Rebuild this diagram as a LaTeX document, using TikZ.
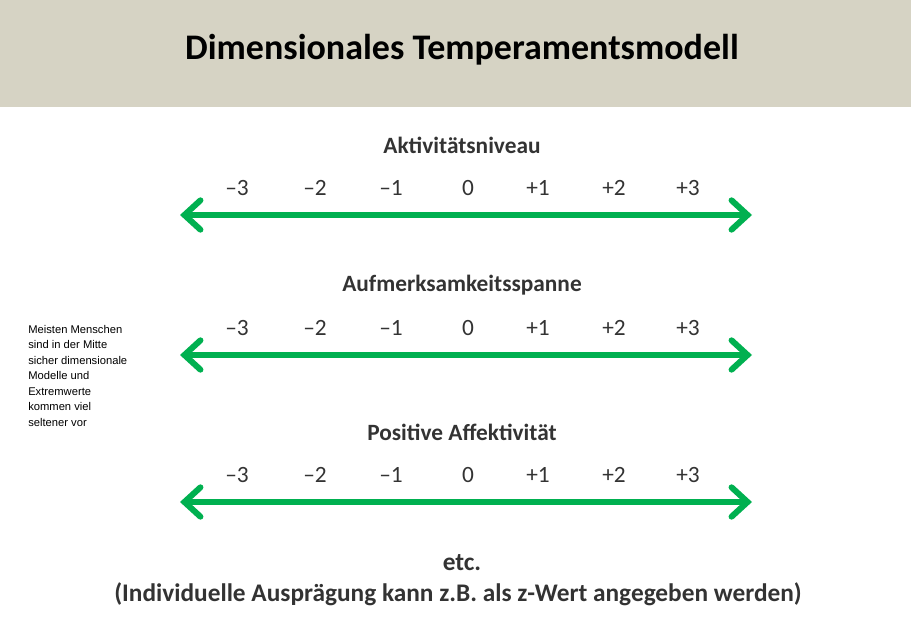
\documentclass[tikz,border=0pt]{standalone}
\usepackage{fontspec}
\setmainfont{Carlito}
\newfontfamily\notefont{Liberation Sans}
\usetikzlibrary{arrows.meta}
\definecolor{banner}{HTML}{D6D3C4}
\definecolor{scalegreen}{HTML}{00B050}
\definecolor{labelgray}{HTML}{333333}
\tikzset{
  axislabel/.style={font=\bfseries\fontsize{17.5}{21}\selectfont, text=labelgray},
  tick/.style={font=\fontsize{17.5}{21}\selectfont, text=labelgray},
  scaleline/.style={draw=scalegreen, line width=4.5pt,
    {Straight Barb[length=12pt,width=22pt,line cap=round]}-{Straight Barb[length=12pt,width=22pt,line cap=round]}}
}
\begin{document}
\begin{tikzpicture}[x=0.75pt,y=-0.75pt]
    \useasboundingbox (0,0) rectangle (911,643);
    \fill[banner] (0,0) rectangle (911,107);
    \node[font=\bfseries\fontsize{27}{32}\selectfont] (title) at (462,50) {Dimensionales Temperamentsmodell};
    \foreach \name/\lab/\yl in {akt/Aktivitätsniveau/145, auf/Aufmerksamkeitsspanne/285, pos/Positive Affektivität/432} {
        \node[axislabel] (\name) at (462,\yl) {\lab};
        \coordinate (\name l) at (180,\yl+70);
        \coordinate (\name r) at (752,\yl+70);
        \draw[scaleline] (\name l) -- (\name r);
        \foreach \v/\x in {–3/237, –2/315, –1/391, 0/468, +1/538, +2/614, +3/688} {
            \node[tick] at (\x,\yl+43) {\v};
        }
    }
    \node[anchor=north west, align=left, font=\notefont\fontsize{8.4}{11.6}\selectfont, inner sep=0pt] (note) at (28,325)
        {Meisten Menschen\\sind in der Mitte\\sicher dimensionale\\Modelle und\\Extremwerte\\kommen viel\\seltener vor};
    \node[font=\bfseries\fontsize{19}{23}\selectfont, text=labelgray] (etc) at (462,563) {etc.};
    \node[font=\bfseries\fontsize{19}{23}\selectfont, text=labelgray] (hint) at (458,594) {(Individuelle Ausprägung kann z.B. als z-Wert angegeben werden)};
\end{tikzpicture}
\end{document}
